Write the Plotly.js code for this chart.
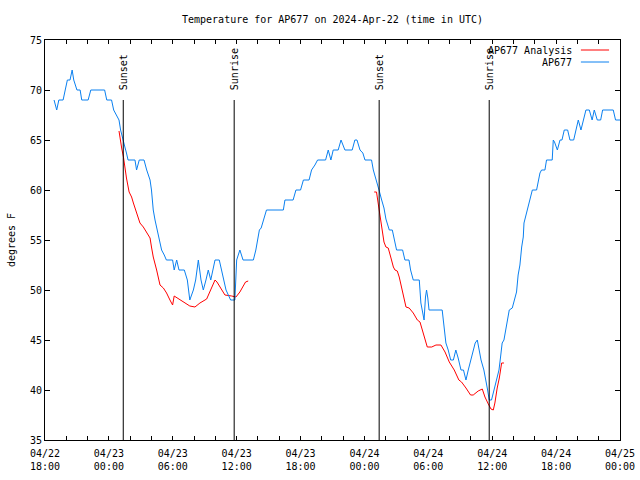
<!DOCTYPE html>
<html>
<head>
<meta charset="utf-8">
<script src="https://cdn.plot.ly/plotly-3.0.1.min.js"></script>
<style>html,body{margin:0;padding:0;background:#fff}#chart{width:640px;height:480px}</style>
</head>
<body>
<div id="chart"></div>
<script>
// Observed station temperatures (AP677), deg F
const stationTimes = [
"2024-04-22 18:51","2024-04-22 19:06","2024-04-22 19:18","2024-04-22 19:42","2024-04-22 19:54","2024-04-22 20:06","2024-04-22 20:21","2024-04-22 20:33","2024-04-22 20:42","2024-04-22 21:00",
"2024-04-22 21:18","2024-04-22 21:27","2024-04-22 21:39","2024-04-22 22:03","2024-04-22 22:18","2024-04-22 23:36","2024-04-22 23:48","2024-04-23 00:15","2024-04-23 00:27","2024-04-23 00:57",
"2024-04-23 01:06","2024-04-23 01:18","2024-04-23 01:30","2024-04-23 01:39","2024-04-23 01:48","2024-04-23 02:27","2024-04-23 02:36","2024-04-23 02:51","2024-04-23 03:18","2024-04-23 03:33",
"2024-04-23 03:52","2024-04-23 04:00","2024-04-23 04:10","2024-04-23 04:20","2024-04-23 04:33","2024-04-23 04:48","2024-04-23 04:57","2024-04-23 05:12","2024-04-23 05:24","2024-04-23 05:59",
"2024-04-23 06:08","2024-04-23 06:22","2024-04-23 06:35","2024-04-23 07:05","2024-04-23 07:22","2024-04-23 07:36","2024-04-23 07:56","2024-04-23 08:09","2024-04-23 08:24","2024-04-23 08:39",
"2024-04-23 08:52","2024-04-23 09:07","2024-04-23 09:20","2024-04-23 09:34","2024-04-23 09:45","2024-04-23 09:58","2024-04-23 10:22","2024-04-23 10:35","2024-04-23 10:48","2024-04-23 11:00",
"2024-04-23 11:26","2024-04-23 11:50","2024-04-23 12:00","2024-04-23 12:09","2024-04-23 12:18","2024-04-23 12:36","2024-04-23 13:34","2024-04-23 13:48","2024-04-23 14:02","2024-04-23 14:08",
"2024-04-23 14:18","2024-04-23 14:30","2024-04-23 14:39","2024-04-23 14:48","2024-04-23 16:23","2024-04-23 16:32","2024-04-23 17:18","2024-04-23 17:34","2024-04-23 18:00","2024-04-23 18:16",
"2024-04-23 18:48","2024-04-23 19:02","2024-04-23 19:21","2024-04-23 19:36","2024-04-23 20:21","2024-04-23 20:36","2024-04-23 20:51","2024-04-23 21:04","2024-04-23 21:32","2024-04-23 21:48",
"2024-04-23 22:10","2024-04-23 22:51","2024-04-23 23:06","2024-04-23 23:18","2024-04-23 23:35","2024-04-23 23:51","2024-04-24 00:03","2024-04-24 00:40","2024-04-24 00:50","2024-04-24 01:08",
"2024-04-24 01:22","2024-04-24 01:37","2024-04-24 01:50","2024-04-24 02:01","2024-04-24 02:20","2024-04-24 02:37","2024-04-24 02:48","2024-04-24 03:01","2024-04-24 03:35","2024-04-24 03:48",
"2024-04-24 04:11","2024-04-24 04:20","2024-04-24 04:35","2024-04-24 05:09","2024-04-24 05:18","2024-04-24 05:31","2024-04-24 05:36","2024-04-24 05:44","2024-04-24 05:50","2024-04-24 05:57",
"2024-04-24 06:04","2024-04-24 07:18","2024-04-24 07:28","2024-04-24 07:39","2024-04-24 07:52","2024-04-24 08:06","2024-04-24 08:21","2024-04-24 08:35","2024-04-24 08:48","2024-04-24 09:04",
"2024-04-24 09:18","2024-04-24 09:32","2024-04-24 09:45","2024-04-24 09:58","2024-04-24 10:13","2024-04-24 10:24","2024-04-24 10:36","2024-04-24 10:47","2024-04-24 10:57","2024-04-24 11:13",
"2024-04-24 11:25","2024-04-24 11:34","2024-04-24 11:43","2024-04-24 11:56","2024-04-24 12:10","2024-04-24 12:25","2024-04-24 12:38","2024-04-24 12:47","2024-04-24 12:56","2024-04-24 13:06",
"2024-04-24 13:17","2024-04-24 13:26","2024-04-24 13:36","2024-04-24 13:53","2024-04-24 14:04","2024-04-24 14:17","2024-04-24 14:26","2024-04-24 14:36","2024-04-24 14:46","2024-04-24 14:55",
"2024-04-24 14:59","2024-04-24 15:08","2024-04-24 15:17","2024-04-24 15:27","2024-04-24 15:36","2024-04-24 15:46","2024-04-24 16:10","2024-04-24 16:19","2024-04-24 16:29","2024-04-24 16:38",
"2024-04-24 16:57","2024-04-24 17:06","2024-04-24 17:38","2024-04-24 17:44","2024-04-24 17:51","2024-04-24 18:07","2024-04-24 18:22","2024-04-24 18:33","2024-04-24 18:46","2024-04-24 19:05",
"2024-04-24 19:18","2024-04-24 19:39","2024-04-24 19:52","2024-04-24 20:05","2024-04-24 20:20","2024-04-24 20:33","2024-04-24 20:48","2024-04-24 21:07","2024-04-24 21:23","2024-04-24 21:35",
"2024-04-24 21:52","2024-04-24 22:11","2024-04-24 22:22","2024-04-24 23:22","2024-04-24 23:35","2024-04-25 00:00"
];
const stationTemps = [
69,68,69,69,70,71,71,72,71,70,
70,69,69,69,70,70,69,69,68,67,
66,65,64.3,63.7,63,63,62,63,63,62,
61,60,58,57,56,55,54,53.5,53,53,
52,53,52,52,51,49,50,51,53,51,
50,51,52,51,52,53,53,52,51,50,
49,49,53,53.5,54,53,53,54,55.7,56,
56.2,57,57.5,58,58,59,59,60,60,61,
61,62,62.5,63,63,64,63,64,64,65,
64,64,65,65,64,63.7,63,63,62,61,
60,59,58.2,57.1,56,56,55.2,54,54,53,
53,52,51,51,48.7,47.7,47,49.3,50,49.2,
48,48,46.5,44.7,44,43,43,44,43.2,42,
42,41,42,43,44,44.7,45,44,43,42,
41,40,39,39,40,41,42,43.3,44.7,45,
46,47,48,48.2,49,49.8,51.5,52.5,54.3,55.3,
56.7,57.3,58,58.8,59.3,60,60,61,61.7,62,
62,63,63,65,64.8,64,65,65,66,66,
65,65,66,67,66,67,68,68,67,68,
67,67,68,68,67,67
];

// Analysis temperatures (two night-time segments, null = gap)
const analysisTimes = [
"2024-04-23 00:57","2024-04-23 01:03","2024-04-23 01:12","2024-04-23 01:22","2024-04-23 01:30","2024-04-23 01:39","2024-04-23 01:54","2024-04-23 02:08","2024-04-23 02:18","2024-04-23 02:36",
"2024-04-23 02:55","2024-04-23 03:14","2024-04-23 03:33","2024-04-23 03:52","2024-04-23 04:00","2024-04-23 04:10","2024-04-23 04:29","2024-04-23 04:48","2024-04-23 05:07","2024-04-23 05:25",
"2024-04-23 05:44","2024-04-23 05:59","2024-04-23 06:08","2024-04-23 06:41","2024-04-23 07:09","2024-04-23 07:36","2024-04-23 08:05","2024-04-23 08:33","2024-04-23 09:11","2024-04-23 09:39",
"2024-04-23 09:58","2024-04-23 10:09","2024-04-23 10:26","2024-04-23 10:54","2024-04-23 11:32","2024-04-23 11:56","2024-04-23 12:18","2024-04-23 12:50","2024-04-23 13:05",
"2024-04-23 18:00",
"2024-04-24 00:55","2024-04-24 01:08","2024-04-24 01:18","2024-04-24 01:28","2024-04-24 01:40","2024-04-24 01:50","2024-04-24 02:01","2024-04-24 02:14","2024-04-24 02:28","2024-04-24 02:43",
"2024-04-24 02:52","2024-04-24 03:05","2024-04-24 03:16","2024-04-24 03:29","2024-04-24 03:43","2024-04-24 03:54","2024-04-24 04:12","2024-04-24 04:35","2024-04-24 04:58","2024-04-24 05:13",
"2024-04-24 05:31","2024-04-24 05:54","2024-04-24 06:19","2024-04-24 06:43","2024-04-24 07:11","2024-04-24 07:34","2024-04-24 07:58","2024-04-24 08:26","2024-04-24 08:52","2024-04-24 09:07",
"2024-04-24 09:32","2024-04-24 09:58","2024-04-24 10:13","2024-04-24 10:41","2024-04-24 11:04","2024-04-24 11:19","2024-04-24 11:38","2024-04-24 11:53","2024-04-24 12:06","2024-04-24 12:15",
"2024-04-24 12:28","2024-04-24 12:40","2024-04-24 12:53","2024-04-24 13:06"
];
const analysisTemps = [
65.9,65,64.2,63.3,62,61.2,59.8,59.3,58.7,57.7,
56.7,56.3,55.8,55.2,54.3,53.3,52,50.5,50.2,49.7,
49,48.5,49.4,49,48.7,48.4,48.3,48.7,49.1,50.2,
51,50.8,50.3,49.5,49.4,49.3,49.8,50.8,50.9,
null,
59.8,59.8,58.6,57.3,55.9,54.8,54.3,54.2,53.3,52.3,
52,51.9,51.3,50.3,49,48.3,48.2,47.7,47,46.8,
45.7,44.3,44.3,44.5,44.5,43.8,42.8,42,41,40.8,
40.2,39.5,39.5,39.9,40.1,39.3,38.6,38.1,38,38.7,
40.2,41.2,42.7,42.7
];

// Sun events
const eventTimes = ["2024-04-23 01:21","2024-04-23 11:46","2024-04-24 01:23","2024-04-24 11:43"];
const eventLabels = ["Sunset","Sunrise","Sunset","Sunrise"];

const seriesNames = ["AP677 Analysis","AP677"];
const seriesColors = ["#ff0000","#0a80f0"];

const FONT = "DejaVu Sans Mono";

const traces = [
  {x: analysisTimes, y: analysisTemps, name: seriesNames[0], type: "scatter", mode: "lines",
   line: {color: seriesColors[0], width: 1}, connectgaps: false, showlegend: false},
  {x: stationTimes, y: stationTemps, name: seriesNames[1], type: "scatter", mode: "lines",
   line: {color: seriesColors[1], width: 1}, showlegend: false}
];

const shapes = [];
const annotations = [];
eventTimes.forEach((t, i) => {
  shapes.push({type: "line", xref: "x", yref: "paper", x0: t, x1: t, y0: 0, y1: 0.85,
               line: {color: "#000", width: 1}});
  annotations.push({x: t, xref: "x", y: 0.87, yref: "paper", text: eventLabels[i],
                    textangle: -90, showarrow: false, xanchor: "center", yanchor: "bottom",
                    font: {family: FONT, size: 10, color: "#000"}});
});

// gnuplot-style legend (text right-aligned, sample on the right)
seriesNames.forEach((n, i) => {
  const yp = i === 0 ? 0.975 : 0.945;
  annotations.push({x: 0.92, xref: "paper", y: yp, yref: "paper", text: n, showarrow: false,
                    xanchor: "right", yanchor: "middle", font: {family: FONT, size: 10, color: "#000"}});
  shapes.push({type: "line", xref: "paper", yref: "paper", x0: 0.932, x1: 0.981, y0: yp, y1: yp,
               line: {color: seriesColors[i], width: 1}});
});

const layout = {
  width: 640, height: 480,
  margin: {l: 45, r: 20, t: 40, b: 40},
  paper_bgcolor: "#fff", plot_bgcolor: "#fff",
  font: {family: FONT, size: 10, color: "#000"},
  title: {text: "Temperature for AP677 on 2024-Apr-22 (time in UTC)", xref: "paper", x: 0.5, xanchor: "center",
          yref: "container", y: 0.96, yanchor: "middle", font: {family: FONT, size: 10, color: "#000"}},
  showlegend: false,
  xaxis: {
    type: "date", range: ["2024-04-22 18:00", "2024-04-25 00:00"],
    tickmode: "linear", tick0: "2024-04-22 18:00", dtick: 6 * 3600000,
    tickformat: "%m/%d<br>%H:%M",
    ticks: "inside", ticklen: 4, tickcolor: "#000", tickwidth: 1,
    minor: {tickmode: "linear", tick0: "2024-04-22 18:00", dtick: 2 * 3600000, ticks: "inside", ticklen: 4, tickcolor: "#000", tickwidth: 1, showgrid: false},
    showline: true, linecolor: "#000", linewidth: 1, mirror: "allticks",
    showgrid: false, zeroline: false, automargin: false,
    tickfont: {family: FONT, size: 10, color: "#000"}, ticklabelstandoff: 4
  },
  yaxis: {
    range: [35, 75], tickmode: "linear", tick0: 35, dtick: 5,
    ticks: "inside", ticklen: 5, tickcolor: "#000", tickwidth: 1,
    showline: true, linecolor: "#000", linewidth: 1, mirror: "allticks",
    showgrid: false, zeroline: false, automargin: false,
    tickfont: {family: FONT, size: 10, color: "#000"},
    title: {text: "degrees F", font: {family: FONT, size: 10, color: "#000"}, standoff: 12}
  },
  shapes: shapes,
  annotations: annotations
};

Plotly.newPlot("chart", traces, layout, {staticPlot: true, displayModeBar: false});
</script>
</body>
</html>
